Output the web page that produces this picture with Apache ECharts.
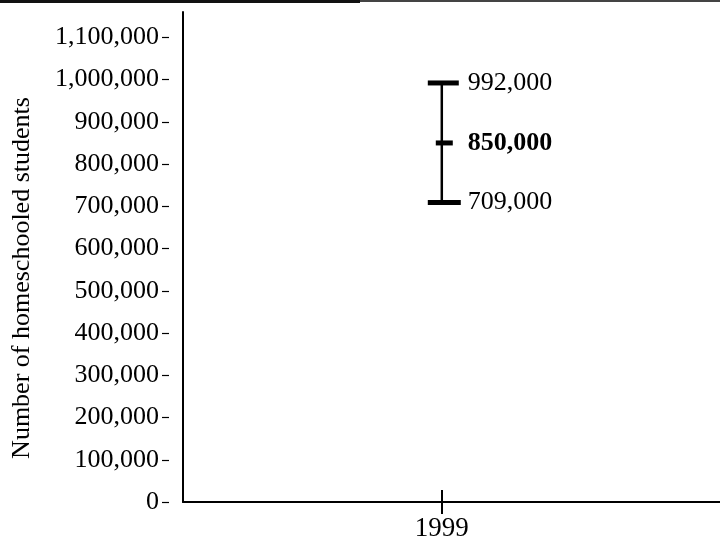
<!DOCTYPE html>
<html>
<head>
<meta charset="utf-8">
<script src="https://cdn.jsdelivr.net/npm/echarts@6/dist/echarts.min.js"></script>
<style>html,body{margin:0;padding:0;background:#fff}#c{width:720px;height:541px}</style>
</head>
<body>
<div id="c"></div>
<script>
var years = [1999];
var lowValues = [709000];
var midValues = [850000];
var highValues = [992000];
var yTickValues = [0,100000,200000,300000,400000,500000,600000,700000,800000,900000,1000000,1100000];
var xTickValues = [1999];
var yTitle = 'Number of homeschooled students';

var FONT = '"Liberation Serif", "Times New Roman", serif';
var fmt = function (v) { return Number(v).toLocaleString('en-US'); };

var data = years.map(function (y, i) { return [y, lowValues[i], midValues[i], highValues[i]]; });

var chart = echarts.init(document.getElementById('c'), null, {renderer: 'canvas'});
chart.setOption({
  animation: false,
  backgroundColor: '#fff',
  grid: {left: 183, right: 0, top: 12, bottom: 39, containLabel: false, outerBoundsMode: 'none'},
  xAxis: [{
    type: 'value', min: 1997, max: 2001.15, position: 'bottom',
    axisLine: {show: true, lineStyle: {color: '#000', width: 2}},
    axisTick: {show: true, customValues: xTickValues, length: 12, lineStyle: {color: '#000', width: 2}},
    axisLabel: {show: true, customValues: xTickValues, margin: 13, color: '#000', fontFamily: FONT, fontSize: 27,
      formatter: function (v) { return String(v); }},
    splitLine: {show: false}
  }, {
    type: 'value', min: 1997, max: 2001.15, position: 'bottom',
    axisLine: {show: false},
    axisTick: {show: true, inside: true, customValues: xTickValues, length: 12, lineStyle: {color: '#000', width: 2}},
    axisLabel: {show: false},
    splitLine: {show: false}
  }],
  yAxis: [{
    type: 'value', min: 0, max: 1160000, position: 'left',
    axisLine: {show: true, lineStyle: {color: '#000', width: 2}},
    axisTick: {show: false},
    axisLabel: {show: false},
    splitLine: {show: false}
  }, {
    type: 'value', min: 0, max: 1160000, position: 'left', offset: 14,
    axisLine: {show: false},
    axisTick: {show: true, customValues: yTickValues, length: 7, lineStyle: {color: '#000', width: 1.2}},
    axisLabel: {show: true, customValues: yTickValues, margin: 10, color: '#000', fontFamily: FONT, fontSize: 26,
      formatter: function (v) { return fmt(v); }},
    splitLine: {show: false}
  }],
  graphic: [
    {type: 'rect', shape: {x: 0, y: 0, width: 360, height: 3}, style: {fill: '#111'}},
    {type: 'rect', shape: {x: 360, y: 0, width: 360, height: 2}, style: {fill: '#444'}},
    {type: 'text', x: 22, y: 278, rotation: Math.PI / 2,
      style: {text: yTitle, fill: '#000', font: '26px ' + FONT, textAlign: 'center', textVerticalAlign: 'middle'}}
  ],
  series: [{
    type: 'custom',
    xAxisIndex: 0, yAxisIndex: 0,
    data: data,
    renderItem: function (params, api) {
      var x = api.value(0);
      var lo = api.coord([x, api.value(1)]);
      var mi = api.coord([x, api.value(2)]);
      var hi = api.coord([x, api.value(3)]);
      var txt = function (p, v, bold) {
        return {type: 'text', x: p[0] + 26, y: p[1],
          style: {text: fmt(v), fill: '#000', font: (bold ? 'bold ' : '') + '26px ' + FONT,
            textAlign: 'left', textVerticalAlign: 'middle'}};
      };
      return {type: 'group', children: [
        {type: 'line', shape: {x1: hi[0], y1: hi[1], x2: lo[0], y2: lo[1]}, style: {stroke: '#000', lineWidth: 2.5}},
        {type: 'line', shape: {x1: hi[0] - 14, y1: hi[1], x2: hi[0] + 17, y2: hi[1]}, style: {stroke: '#000', lineWidth: 5}},
        {type: 'line', shape: {x1: mi[0] - 6, y1: mi[1], x2: mi[0] + 11, y2: mi[1]}, style: {stroke: '#000', lineWidth: 5}},
        {type: 'line', shape: {x1: lo[0] - 14, y1: lo[1], x2: lo[0] + 19, y2: lo[1]}, style: {stroke: '#000', lineWidth: 5}},
        txt(hi, api.value(3), false),
        txt(mi, api.value(2), true),
        txt(lo, api.value(1), false)
      ]};
    }
  }]
});
</script>
</body>
</html>
